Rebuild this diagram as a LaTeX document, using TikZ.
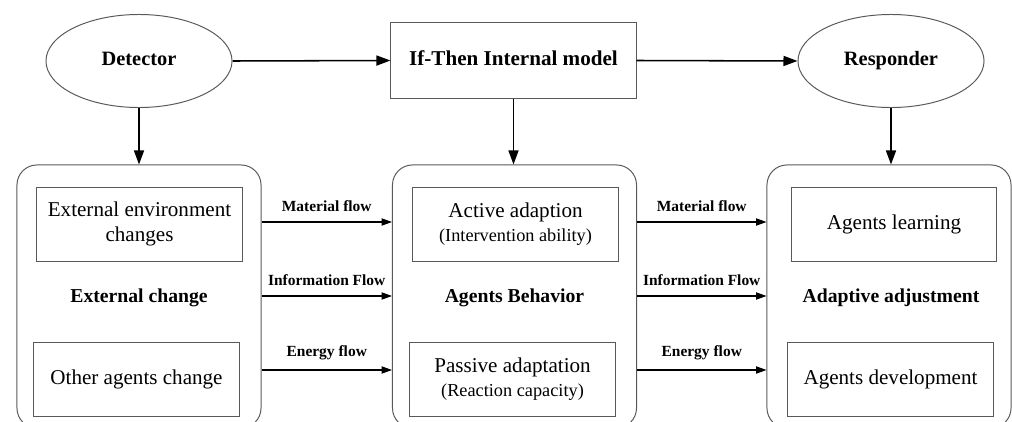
\documentclass[tikz,border=0pt]{standalone}
\usepackage{fontspec}
\setmainfont{Liberation Serif}
\usetikzlibrary{positioning,shapes.geometric,arrows.meta}

\begin{document}
\begin{tikzpicture}[x=0.025cm, y=-0.025cm, thick]

    % Define styles
    \tikzstyle{oval} = [draw=black!65, ellipse, line width=0.7pt, minimum width=4.65cm, minimum height=2.325cm, text height=0.7em, text depth=0em, font=\fontsize{14.5}{17}\selectfont\bfseries]
    \tikzstyle{modelbox} = [draw=black!65, rectangle, line width=0.7pt, minimum width=6.125cm, minimum height=1.875cm, text height=0.7em, text depth=0em, font=\fontsize{15}{17}\selectfont\bfseries]
    \tikzstyle{group} = [draw=black!65, rectangle, rounded corners=0.5cm, line width=0.7pt, minimum width=6.1cm, minimum height=6.575cm]
    \tikzstyle{item} = [draw=black!65, rectangle, line width=0.7pt, minimum width=5.125cm, minimum height=1.85cm, align=center, font=\fontsize{15}{17.5}\selectfont]
    \tikzstyle{title} = [text height=0.7em, text depth=0em, font=\fontsize{14}{17}\selectfont\bfseries]
    \tikzstyle{link} = [-{Triangle[length=3.5mm,width=2.5mm]}, line width=1.1pt]
    \tikzstyle{flow} = [-{Triangle[length=2.6mm,width=1.8mm]}, line width=0.8pt]
    \tikzstyle{flowlabel} = [above=5pt, inner sep=2pt, font=\fontsize{11}{13}\selectfont\bfseries]
    \newcommand{\sub}[1]{{\fontsize{13}{15}\selectfont #1}}

    \useasboundingbox (0,0) rectangle (1012,421);
    \clip (0,0) rectangle (1012,421);

    % TOP ROW
    \node (detector) [oval] at (139,61) {Detector};
    \node (model) [modelbox] at (513.5,60.5) {If-Then Internal model};
    \node (responder) [oval] at (891,61) {Responder};

    % GROUPS
    \node (ext) [group] at (139,296.5) {};
    \node (beh) [group] at (514.5,296.5) {};
    \node (adj) [group] at (889,296.5) {};

    \node (extlabel) [title] at (139,298) {External change};
    \node (behlabel) [title] at (514.5,298) {Agents Behavior};
    \node (adjlabel) [title] at (891,298) {Adaptive adjustment};

    \node (env) [item] at (139.5,224) {External environment\\changes};
    \node (oth) [item] at (136.5,379) {Other agents change};
    \node (act) [item] at (515.5,224) {Active adaption\\\sub{(Intervention ability)}};
    \node (pas) [item] at (512.5,379) {Passive adaptation\\\sub{(Reaction capacity)}};
    \node (lea) [item] at (894,224) {Agents learning};
    \node (dev) [item] at (890.5,379) {Agents development};

    \coordinate (material) at (0,222);
    \coordinate (information) at (0,296);
    \coordinate (energy) at (0,370);

    % CONNECTIONS
    \draw[link] (detector.east) -- (model.west);
    \draw[link] (model.east) -- (responder.west);
    \draw[link] (detector.south) -- (detector.south |- ext.north);
    \draw[link] (model.south) -- (model.south |- beh.north);
    \draw[link] (responder.south) -- (responder.south |- adj.north);

    % Flows
    \draw[flow] (ext.east |- material) -- node[flowlabel] {Material flow} (beh.west |- material);
    \draw[flow] (ext.east |- information) -- node[flowlabel] {Information Flow} (beh.west |- information);
    \draw[flow] (ext.east |- energy) -- node[flowlabel] {Energy flow} (beh.west |- energy);
    \draw[flow] (beh.east |- material) -- node[flowlabel] {Material flow} (adj.west |- material);
    \draw[flow] (beh.east |- information) -- node[flowlabel] {Information Flow} (adj.west |- information);
    \draw[flow] (beh.east |- energy) -- node[flowlabel] {Energy flow} (adj.west |- energy);

\end{tikzpicture}
\end{document}
